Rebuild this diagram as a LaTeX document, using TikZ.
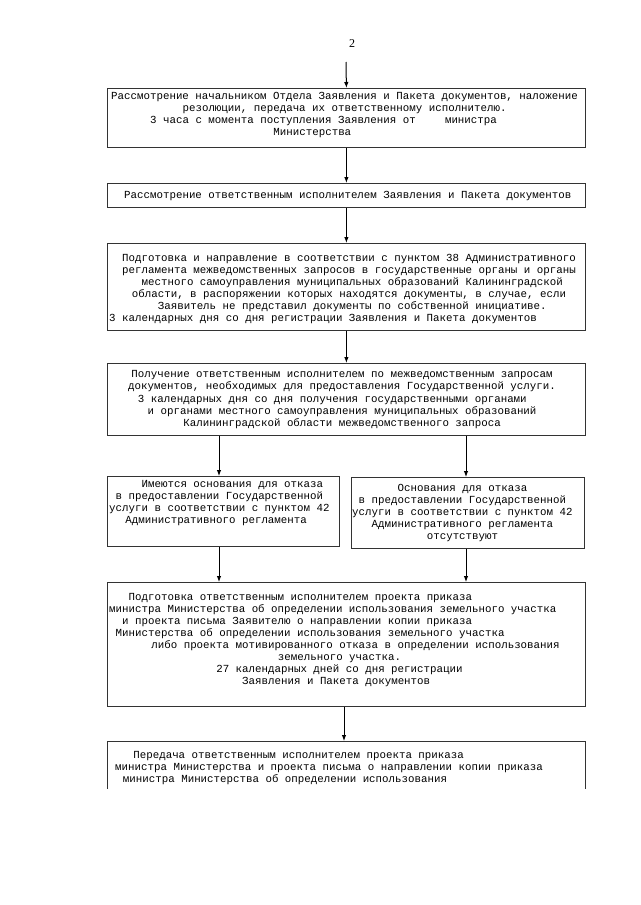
\documentclass[tikz,border=0pt]{standalone}
\usepackage{fontspec}
\usetikzlibrary{arrows.meta,calc}
\newfontfamily\cour{Liberation Mono}
\newfontfamily\tms{Liberation Serif}
\newlength\cw \setlength\cw{6.49pt}
\newcommand\cc[1]{\hspace*{#1\cw}}
\newcommand\fl{\rule{0pt}{9pt}}
\begin{document}
\begin{tikzpicture}[x=1pt,y=-1pt,
  box/.style={draw=black!80, line width=0.8pt, inner sep=0pt, rectangle, anchor=north west},
  boxline/.style={draw=black!80, line width=0.8pt},
  txt/.style={font=\cour\fontsize{10.8}{12}\selectfont, align=left, inner sep=0pt, anchor=north west},
  arr/.style={line width=1pt, -{Latex[length=6pt,width=4.5pt]}}]
\useasboundingbox (0,0) rectangle (640,905);
\fill[white] (0,0) rectangle (640,905);

\node[font=\tms\fontsize{12}{14}\selectfont] (pg) at (352,44) {2};

% boxes
\node[box, minimum width=478pt, minimum height=59pt] (b1) at (107,88) {};
\node[box, minimum width=478pt, minimum height=24pt] (b2) at (107,183) {};
\node[box, minimum width=478pt, minimum height=87pt] (b3) at (107,243) {};
\node[box, minimum width=478pt, minimum height=72pt] (b4) at (107,363) {};
\node[box, minimum width=232pt, minimum height=70pt] (b5l) at (107,476) {};
\node[box, minimum width=233pt, minimum height=71pt] (b5r) at (351,477) {};
\node[box, minimum width=478pt, minimum height=124pt] (b6) at (107,582) {};
\node[box, draw=none, minimum width=478pt, minimum height=47pt] (b7) at (107,741) {};
\draw[boxline] (b7.south west) -- (b7.north west) -- (b7.north east) -- (b7.south east);

% texts
\node[txt] (t1) at (111,90.5) {\fl Рассмотрение начальником Отдела Заявления и Пакета документов, наложение\\
\cc{11}резолюции, передача их ответственному исполнителю.\\
\cc{6}3 часа с момента поступления Заявления от\cc{4.5}министра\\
\cc{25}Министерства};

\node[txt] (t2) at (124,189.5) {\fl Рассмотрение ответственным исполнителем Заявления и Пакета документов};

\node[txt] (t3) at (109,252.5) {\fl\cc{2}Подготовка и направление в соответствии с пунктом 38 Административного\\
\cc{2}регламента межведомственных запросов в государственные органы и органы\\
\cc{5}местного самоуправления муниципальных образований Калининградской\\
\cc{3.5}области, в распоряжении которых находятся документы, в случае, если\\
\cc{7.5}Заявитель не представил документы по собственной инициативе.\\
3 календарных дня со дня регистрации Заявления и Пакета документов};

\node[txt, font=\cour\fontsize{10.8}{12.4}\selectfont] (t4) at (108.5,368) {\fl\cc{3.5}Получение ответственным исполнителем по межведомственным запросам\\
\cc{3}документов, необходимых для предоставления Государственной услуги.\\
\cc{4.5}3 календарных дня со дня получения государственными органами\\
\cc{6}и органами местного самоуправления муниципальных образований\\
\cc{11.5}Калининградской области межведомственного запроса};

\node[txt] (t5l) at (109,478.5) {\fl\cc{5}Имеются основания для отказа\\
\cc{1}в предоставлении Государственной\\
услуги в соответствии с пунктом 42\\
\cc{2.5}Административного регламента};

\node[txt] (t5r) at (352,482.5) {\fl\cc{7}Основания для отказа\\
\cc{1}в предоставлении Государственной\\
услуги в соответствии с пунктом 42\\
\cc{3}Административного регламента\\
\cc{11.5}отсутствуют};

\node[txt] (t6) at (109,591.5) {\fl\cc{3}Подготовка ответственным исполнителем проекта приказа\\
министра Министерства об определении использования земельного участка\\
\cc{2}и проекта письма Заявителю о направлении копии приказа\\
\cc{1}Министерства об определении использования земельного участка\\
\cc{6.5}либо проекта мотивированного отказа в определении использования\\
\cc{26}земельного участка.\\
\cc{16.5}27 календарных дней со дня регистрации\\
\cc{20.5}Заявления и Пакета документов};

\node[txt] (t7) at (115,749) {\fl\cc{2.8}Передача ответственным исполнителем проекта приказа\\
министра Министерства и проекта письма о направлении копии приказа\\
\cc{1.2}министра Министерства об определении использования};

% arrows
\coordinate (s0) at (346,62);
\draw[arr] (s0) -- (b1.north);
\draw[arr] (b1.south) -- (b2.north);
\draw[arr] (b2.south) -- (b3.north);
\draw[arr] (b3.south) -- (b4.north);
\draw[arr] ($(b4.south west)+(112,0)$) -- ($(b5l.north west)+(112,0)$);
\draw[arr] ($(b4.south west)+(359,0)$) -- ($(b5r.north west)+(115,0)$);
\draw[arr] ($(b5l.south west)+(112,0)$) -- ($(b6.north west)+(112,0)$);
\draw[arr] ($(b5r.south west)+(115,0)$) -- ($(b6.north west)+(359,0)$);
\draw[arr] ($(b6.south west)+(237,0)$) -- ($(b7.north west)+(237,0)$);
\end{tikzpicture}
\end{document}
